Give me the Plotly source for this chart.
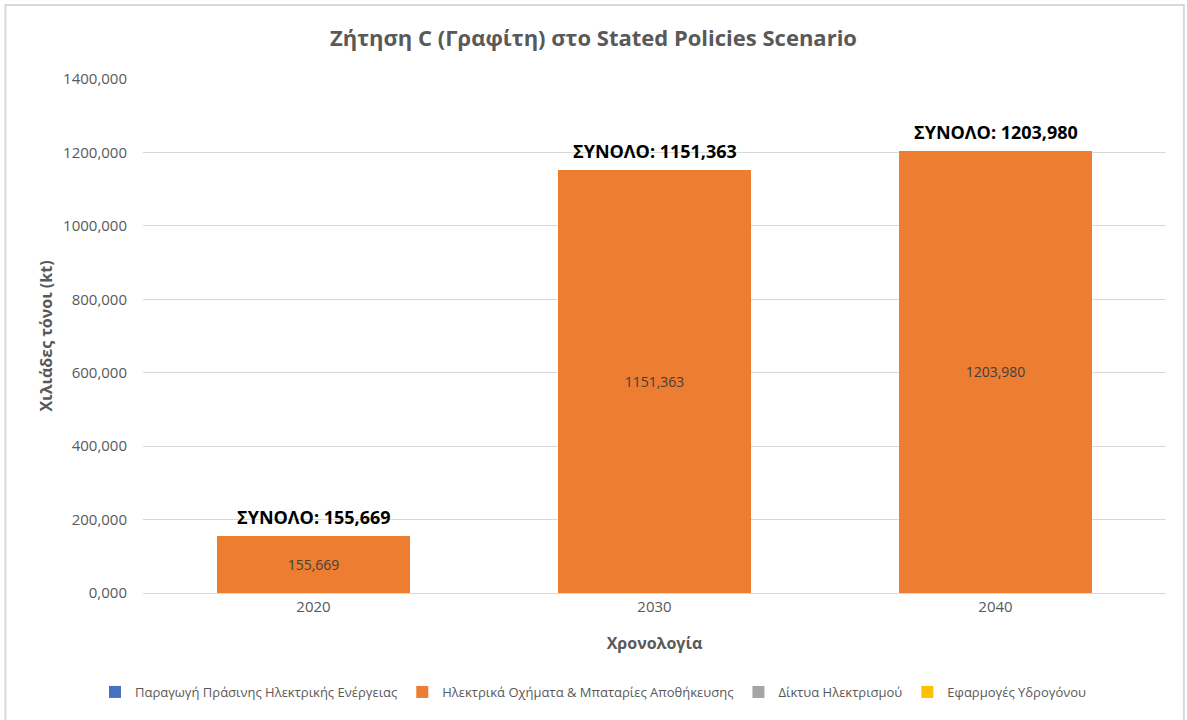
import plotly.graph_objects as go

# Demand data (kt) per year and application
years = ["2020", "2030", "2040"]
green_power = [0, 0, 0]
ev_batteries = [155.669, 1151.363, 1203.980]
grids = [0, 0, 0]
hydrogen = [0, 0, 0]
totals = [155.669, 1151.363, 1203.980]

series = [
    ("Παραγωγή Πράσινης Ηλεκτρικής Ενέργειας", green_power, "#4472C4"),
    ("Ηλεκτρικά Οχήματα & Μπαταρίες Αποθήκευσης", ev_batteries, "#ED7D31"),
    ("Δίκτυα Ηλεκτρισμού", grids, "#A5A5A5"),
    ("Εφαρμογές Υδρογόνου", hydrogen, "#FFC000"),
]

FONT = "Open Sans"
GREY = "#595959"

fig = go.Figure()
for name, vals, color in series:
    show_text = any(v > 0 for v in vals)
    fig.add_trace(go.Bar(
        x=years, y=vals, name=name, marker=dict(color=color, line=dict(width=0)),
        texttemplate="%{y:.3f}" if show_text else None,
        textposition="inside" if show_text else "none",
        insidetextanchor="middle",
        textfont=dict(family=FONT, size=14, color="#404040"),
        hoverinfo="x+y+name",
    ))

# Total labels above each stack (category index used as x position)
for i, tot in enumerate(totals):
    fig.add_annotation(
        x=i, y=tot, text="<b>ΣΥΝΟΛΟ: " + f"{tot:.3f}".replace(".", ",") + "</b>",
        showarrow=False, yanchor="bottom", yshift=5,
        font=dict(family=FONT, size=18, color="#000000"),
    )

# Chart-area frame
fig.add_shape(type="rect", xref="paper", yref="paper",
              x0=-0.1345, x1=1.0175, y0=-0.30, y1=1.144,
              line=dict(color="#D9D9D9", width=2), fillcolor="rgba(0,0,0,0)", layer="below")

fig.update_layout(
    width=1187, height=720,
    margin=dict(l=143, r=21, t=79, b=127),
    paper_bgcolor="white", plot_bgcolor="white",
    separators=",.",
    barmode="stack", bargap=0.434,
    title=dict(text="<b>Ζήτηση C (Γραφίτη) στο Stated Policies Scenario</b>",
               x=0.5, xref="container", xanchor="center",
               y=1 - 38 / 720, yref="container", yanchor="middle",
               font=dict(family=FONT, size=22, color=GREY)),
    font=dict(family=FONT, color=GREY),
    xaxis=dict(
        type="category", range=[-0.5, 2.5],
        title=dict(text="<b>Χρονολογία</b>", font=dict(family=FONT, size=16, color=GREY), standoff=22),
        tickfont=dict(family=FONT, size=15, color=GREY),
        showline=True, linecolor="#D9D9D9", linewidth=1, ticks="",
    ),
    yaxis=dict(
        title=dict(text="<b>Χιλιάδες τόνοι (kt)</b>", font=dict(family=FONT, size=16, color=GREY), standoff=6),
        range=[0, 1400], dtick=200, tickformat=".3f",
        tickfont=dict(family=FONT, size=15, color=GREY),
        showgrid=True, gridcolor="#D9D9D9", gridwidth=1, zeroline=False, ticks="",
        ticklabelstandoff=15,
    ),
    legend=dict(orientation="h", x=0.5, xref="container", xanchor="center",
                y=28 / 720, yref="container", yanchor="middle",
                font=dict(family=FONT, size=13, color=GREY),
                itemwidth=30, traceorder="normal"),
    showlegend=True,
)

fig.write_html("out.html")
